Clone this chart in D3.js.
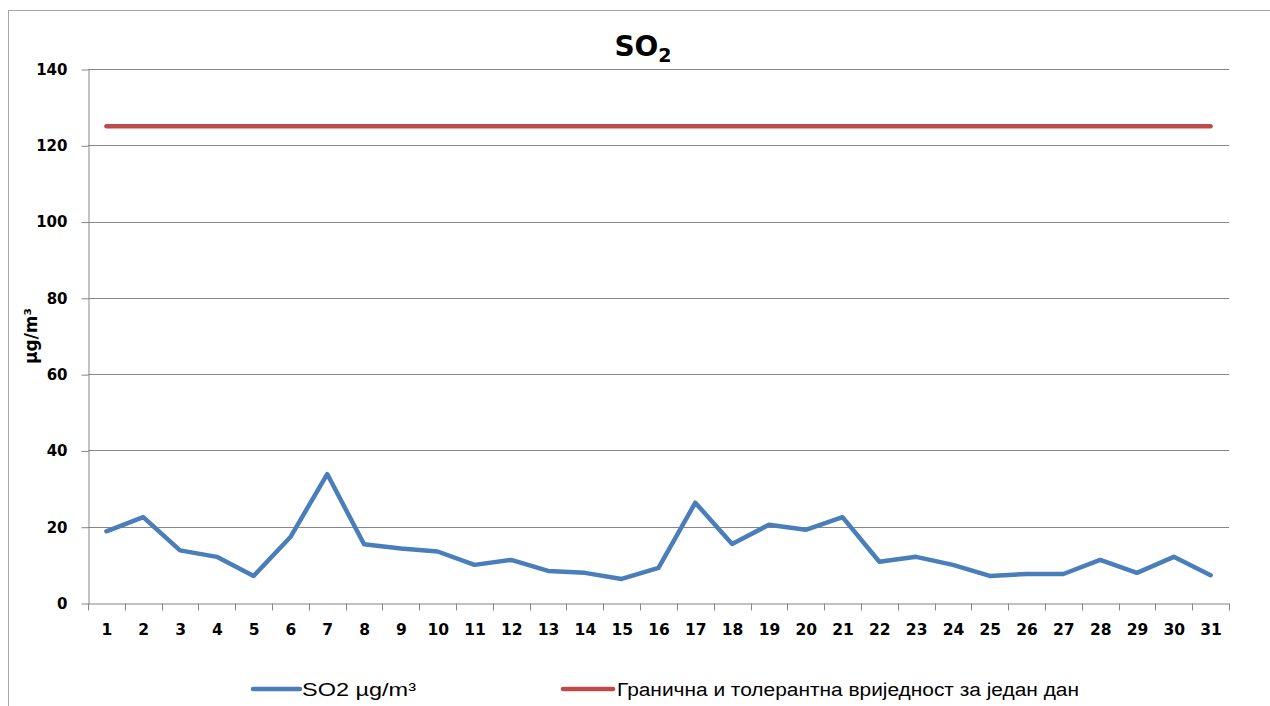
<!DOCTYPE html>
<html><head><meta charset="utf-8">
<script src="https://cdn.jsdelivr.net/npm/d3@7"></script>
<style>body{margin:0;background:#fff}svg{display:block}</style>
</head><body>
<svg id="c" width="1270" height="706"></svg>
<script>
const days = d3.range(1, 32).map(String);
const so2 = [18.8,22.5,13.8,12.1,7.1,17.3,33.8,15.4,14.3,13.5,10.0,11.3,8.4,7.9,6.3,9.2,26.3,15.5,20.5,19.2,22.5,10.8,12.1,10.0,7.1,7.6,7.6,11.3,7.9,12.1,7.3];
const limit = days.map(() => 125);
const yTicks = [0,20,40,60,80,100,120,140];
const seriesNames = ["SO2 µg/m³", "Гранична и толерантна вријeдност за један дан".replace("e","е")];
const colors = ["#4a7ebb", "#be4b48"];

const svg = d3.select("#c");
svg.append("rect").attr("x",8.5).attr("y",10.5).attr("width",1270).attr("height",700)
  .attr("fill","#fff").attr("stroke","#a6a6a6").attr("stroke-width",1);

const L=88, R=1229, T=69, B=603;
const x = d3.scaleBand().domain(days).range([L,R]);
const y = d3.scaleLinear().domain([0,140]).range([B,T]);

// gridlines
svg.append("g").selectAll("line").data(yTicks.filter(d=>d>0)).join("line")
  .attr("x1",L).attr("x2",R).attr("y1",d=>Math.round(y(d))+0.5).attr("y2",d=>Math.round(y(d))+0.5)
  .attr("stroke","#868686").attr("stroke-width",1);

// y axis
const ya = svg.append("g").attr("transform",`translate(${L+0.5},0.5)`)
  .call(d3.axisLeft(y).tickValues(yTicks).tickSize(7).tickPadding(14).tickSizeOuter(0));
ya.select(".domain").attr("stroke","#868686");
ya.selectAll(".tick line").attr("stroke","#868686");
ya.selectAll("text").attr("font-family","DejaVu Sans").attr("font-weight","bold").attr("font-size",15).attr("fill","#000");

// x axis
const xa = svg.append("g").attr("transform",`translate(0.5,${B+0.5})`)
  .call(d3.axisBottom(x).tickSize(0).tickPadding(20));
xa.select(".domain").attr("stroke","#868686");
xa.selectAll("text").attr("font-family","DejaVu Sans").attr("font-weight","bold").attr("font-size",15.5).attr("fill","#000");
xa.append("g").selectAll("line").data(days.map(d=>x(d)).concat([R])).join("line")
  .attr("x1",d=>Math.round(d)).attr("x2",d=>Math.round(d)).attr("y1",0).attr("y2",7).attr("stroke","#868686");

const line = d3.line().x((d,i)=>x(days[i])+x.bandwidth()/2).y(d=>y(d));
svg.append("path").datum(limit).attr("d",line).attr("fill","none").attr("stroke",colors[1]).attr("stroke-width",4.5).attr("stroke-linecap","round");
svg.append("path").datum(so2).attr("d",line).attr("fill","none").attr("stroke",colors[0]).attr("stroke-width",4.5).attr("stroke-linejoin","round").attr("stroke-linecap","round");

// title
const t = svg.append("text").attr("x",643).attr("y",56).attr("text-anchor","middle")
  .attr("font-family","DejaVu Sans").attr("font-weight","bold").attr("font-size",28).attr("fill","#000");
t.append("tspan").text("SO");
t.append("tspan").text("2").attr("font-size",19).attr("dy",6);

// y title
svg.append("text").attr("transform","translate(37,336) rotate(-90)").attr("text-anchor","middle")
  .attr("font-family","DejaVu Sans").attr("font-weight","bold").attr("font-size",17).text("µg/m³");

// legend
const leg = [{x1:253,x2:300,tx:302,tw:114},{x1:563,x2:613,tx:617,tw:462}];
leg.forEach((l,i)=>{
  svg.append("line").attr("x1",l.x1).attr("x2",l.x2).attr("y1",689).attr("y2",689)
    .attr("stroke",colors[i]).attr("stroke-width",4.5).attr("stroke-linecap","round");
  svg.append("text").attr("x",l.tx).attr("y",696).attr("font-family","Liberation Sans Narrow, Liberation Sans")
    .attr("font-size",18).attr("textLength",l.tw).attr("lengthAdjust","spacingAndGlyphs").attr("fill","#000").text(seriesNames[i]);
});
</script>
</body></html>
